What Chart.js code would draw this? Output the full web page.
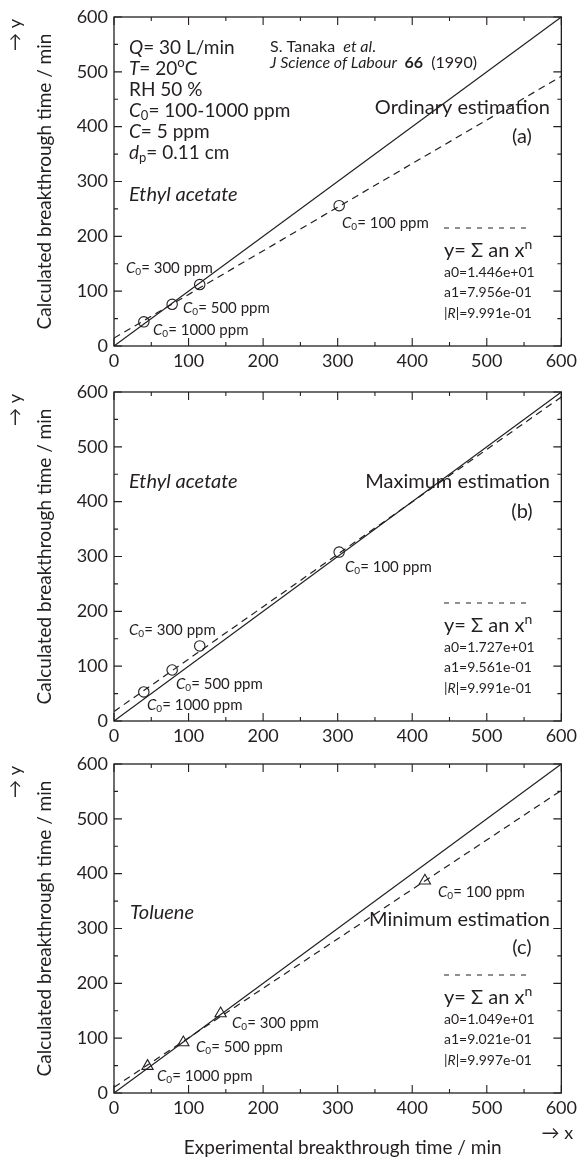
<!DOCTYPE html>
<html>
<head>
<meta charset="utf-8">
<script src="https://cdn.jsdelivr.net/npm/chart.js@4.4.0/dist/chart.umd.min.js"></script>
<style>
  body { margin: 0; background: #fff; }
  #wrap { position: relative; width: 581px; height: 1158px; }
  canvas { position: absolute; left: 0; }
</style>
</head>
<body>
<div id="wrap">
  <canvas id="chartA" width="581" height="375" style="top:0px"></canvas>
  <canvas id="chartB" width="581" height="375" style="top:375px"></canvas>
  <canvas id="chartC" width="581" height="411" style="top:747px"></canvas>
</div>
<script>
// data (experimental x, calculated y)
const expA = [40, 78, 115, 302];
const calcA = [44, 76, 112, 256];
const expB = [40, 78, 115, 302];
const calcB = [53, 93, 137, 308];
const expC = [45, 93, 143, 417];
const calcC = [49, 92, 145, 387];

// y = x reference line and the fitted lines (ends at x = 0 and 600)
const lineX = [0, 600];
const idealY = [0, 600];
const fitA = [14.46, 491.8];
const fitB = [17.27, 590.9];
const fitC = [10.49, 551.8];

const coefA = ['a0=1.446e+01', 'a1=7.956e-01', '9.991e-01'];
const coefB = ['a0=1.727e+01', 'a1=9.561e-01', '9.991e-01'];
const coefC = ['a0=1.049e+01', 'a1=9.021e-01', '9.997e-01'];

const axisMin = 0;
const axisMax = 600;
const tickStep = 50;

const FONT = "Lato, 'DejaVu Sans', sans-serif";
const INK = '#231f20';

function pts(xs, ys) {
    return xs.map((x, i) => ({ x: x, y: ys[i] }));
}

// draw text made of styled parts: 'i' italic, 'B' bold, '_' subscript, '^' superscript
function drawRich(ctx, x, y, parts, size, align) {
    const fontOf = (st, sz) => (st.includes('i') ? 'italic ' : '') + (st.includes('B') ? 'bold ' : '') + sz + 'px ' + FONT;
    let total = 0;
    const items = parts.map(p => {
        const st = p[1] || '';
        const small = st.includes('_') || st.includes('^');
        const sz = small ? Math.round(size * 0.68) : size;
        ctx.font = fontOf(st, sz);
        const w = ctx.measureText(p[0]).width;
        total += w;
        return { t: p[0], st: st, sz: sz, w: w };
    });
    let cx = x;
    if (align === 'right') cx = x - total;
    if (align === 'center') cx = x - total / 2;
    ctx.textAlign = 'left';
    ctx.textBaseline = 'middle';
    items.forEach(it => {
        ctx.font = fontOf(it.st, it.sz);
        let oy = 0;
        if (it.st.includes('_')) oy = size * 0.25;
        if (it.st.includes('^')) oy = -size * 0.33;
        ctx.fillText(it.t, cx, y + oy);
        cx += it.w;
    });
}

function c0(rest) {
    return [['C', 'i'], ['0', '_'], ['= ' + rest + ' ppm']];
}

// frame on all four sides with inward ticks
const framePlugin = {
    id: 'frame',
    afterDraw(chart) {
        const ctx = chart.ctx;
        const a = chart.chartArea;
        const xs = chart.scales.x;
        const ys = chart.scales.y;
        ctx.save();
        ctx.strokeStyle = INK;
        ctx.lineWidth = 1.3;
        ctx.strokeRect(a.left, a.top, a.right - a.left, a.bottom - a.top);
        ctx.lineWidth = 1.1;
        ctx.beginPath();
        xs.ticks.forEach(t => {
            const px = xs.getPixelForValue(t.value);
            const len = t.value % 100 ? 4 : 8;
            ctx.moveTo(px, a.bottom); ctx.lineTo(px, a.bottom - len);
            ctx.moveTo(px, a.top); ctx.lineTo(px, a.top + len);
        });
        ys.ticks.forEach(t => {
            const py = ys.getPixelForValue(t.value);
            const len = t.value % 100 ? 4 : 8;
            ctx.moveTo(a.left, py); ctx.lineTo(a.left + len, py);
            ctx.moveTo(a.right, py); ctx.lineTo(a.right - len, py);
        });
        ctx.stroke();
        ctx.restore();
    }
};

// notes, fit legend and axis titles of one panel
function notesPlugin(notes, coef, withXTitle) {
    return {
        id: 'notes',
        afterDraw(chart) {
            const ctx = chart.ctx;
            const a = chart.chartArea;
            ctx.save();
            ctx.fillStyle = INK;
            notes.forEach(n => drawRich(ctx, a.left + n.dx, a.top + n.dy, n.parts, n.size, n.align));

            // fit legend
            ctx.strokeStyle = INK;
            ctx.lineWidth = 1.2;
            ctx.setLineDash([5, 6]);
            ctx.beginPath();
            ctx.moveTo(a.left + 330, a.top + 211);
            ctx.lineTo(a.left + 418, a.top + 211);
            ctx.stroke();
            ctx.setLineDash([]);
            drawRich(ctx, a.left + 330, a.top + 234, [['y= \u03A3 an x'], ['n', '^']], 20);
            drawRich(ctx, a.left + 330, a.top + 255, [[coef[0]]], 14);
            drawRich(ctx, a.left + 330, a.top + 275, [[coef[1]]], 14);
            drawRich(ctx, a.left + 330, a.top + 296, [['|'], ['R', 'i'], ['|=' + coef[2]]], 14);

            // y axis title
            ctx.save();
            ctx.translate(45, (a.top + a.bottom) / 2);
            ctx.rotate(-Math.PI / 2);
            drawRich(ctx, 0, 0, [['Calculated breakthrough time / min']], 19, 'center');
            ctx.restore();
            ctx.save();
            ctx.translate(15, a.top + 18);
            ctx.rotate(-Math.PI / 2);
            drawRich(ctx, 0, 0, [['\u2192 y']], 18, 'center');
            ctx.restore();

            if (withXTitle) {
                drawRich(ctx, (a.left + a.right) / 2 + 5, a.bottom + 55, [['Experimental breakthrough time / min']], 19, 'center');
                drawRich(ctx, a.right - 4, a.bottom + 40, [['\u2192 x']], 18, 'center');
            }
            ctx.restore();
        }
    };
}

function makePanel(id, xs, ys, fit, marker, notes, coef, bottomPad, withXTitle) {
    const tickFont = { family: FONT, size: 18 };
    new Chart(document.getElementById(id), {
        type: 'scatter',
        data: {
            datasets: [
                {
                    data: pts(lineX, idealY),
                    showLine: true,
                    borderColor: INK,
                    borderWidth: 1.2,
                    pointRadius: 0
                },
                {
                    data: pts(lineX, fit),
                    showLine: true,
                    borderColor: INK,
                    borderWidth: 1.2,
                    borderDash: [7, 5],
                    pointRadius: 0
                },
                {
                    data: pts(xs, ys),
                    pointStyle: marker,
                    pointRadius: marker === 'triangle' ? 6.5 : 5.2,
                    borderWidth: 1.1,
                    borderColor: INK,
                    backgroundColor: 'rgba(0,0,0,0)'
                }
            ]
        },
        options: {
            responsive: false,
            animation: false,
            devicePixelRatio: 1,
            layout: { padding: { top: 17, right: 18, bottom: bottomPad, left: 0 } },
            plugins: { legend: { display: false }, tooltip: { enabled: false } },
            scales: {
                x: {
                    type: 'linear',
                    min: axisMin,
                    max: axisMax,
                    afterFit(s) { s.height = 25; },
                    grid: { display: false, drawTicks: false },
                    border: { display: false },
                    ticks: {
                        stepSize: tickStep,
                        autoSkip: false,
                        maxRotation: 0,
                        padding: 4,
                        color: INK,
                        font: tickFont,
                        callback: v => (v % 100 === 0 ? v : '')
                    }
                },
                y: {
                    type: 'linear',
                    min: axisMin,
                    max: axisMax,
                    afterFit(s) { s.width = 114; },
                    grid: { display: false, drawTicks: false },
                    border: { display: false },
                    ticks: {
                        stepSize: tickStep,
                        autoSkip: false,
                        padding: 6,
                        color: INK,
                        font: tickFont,
                        callback: v => (v % 100 === 0 ? v : '')
                    }
                }
            }
        },
        plugins: [framePlugin, notesPlugin(notes, coef, withXTitle)]
    });
}

const notesA = [
    { dx: 15, dy: 31, size: 19, parts: [['Q', 'i'], ['= 30 L/min']] },
    { dx: 15, dy: 52, size: 19, parts: [['T', 'i'], ['= 20'], ['o', '^'], ['C']] },
    { dx: 15, dy: 73, size: 19, parts: [['RH 50 %']] },
    { dx: 15, dy: 94, size: 19, parts: [['C', 'i'], ['0', '_'], ['= 100-1000 ppm']] },
    { dx: 15, dy: 115, size: 19, parts: [['C', 'i'], ['= 5 ppm']] },
    { dx: 15, dy: 136, size: 19, parts: [['d', 'i'], ['p', '_'], ['= 0.11 cm']] },
    { dx: 156, dy: 30, size: 16, parts: [['S. Tanaka  '], ['et al', 'i'], ['.']] },
    { dx: 156, dy: 46, size: 16, parts: [['J Science of Labour  ', 'i'], ['66', 'B'], ['  (1990)']] },
    { dx: 436, dy: 91, size: 20, align: 'right', parts: [['Ordinary estimation']] },
    { dx: 408, dy: 120, size: 20, align: 'center', parts: [['(a)']] },
    { dx: 15, dy: 178, size: 20, parts: [['Ethyl acetate', 'i']] },
    { dx: 12, dy: 251, size: 15, parts: c0('300') },
    { dx: 69, dy: 291, size: 15, parts: c0('500') },
    { dx: 39, dy: 313, size: 15, parts: c0('1000') },
    { dx: 228, dy: 206, size: 15, parts: c0('100') }
];

const notesB = [
    { dx: 15, dy: 90, size: 20, parts: [['Ethyl acetate', 'i']] },
    { dx: 436, dy: 90, size: 20, align: 'right', parts: [['Maximum estimation']] },
    { dx: 408, dy: 120, size: 20, align: 'center', parts: [['(b)']] },
    { dx: 15, dy: 238, size: 15, parts: c0('300') },
    { dx: 62, dy: 292, size: 15, parts: c0('500') },
    { dx: 33, dy: 313, size: 15, parts: c0('1000') },
    { dx: 231, dy: 175, size: 15, parts: c0('100') }
];

const notesC = [
    { dx: 16, dy: 149, size: 20, parts: [['Toluene', 'i']] },
    { dx: 436, dy: 156, size: 20, align: 'right', parts: [['Minimum estimation']] },
    { dx: 408, dy: 184, size: 20, align: 'center', parts: [['(c)']] },
    { dx: 324, dy: 128, size: 15, parts: c0('100') },
    { dx: 118, dy: 259, size: 15, parts: c0('300') },
    { dx: 82, dy: 283, size: 15, parts: c0('500') },
    { dx: 43, dy: 312, size: 15, parts: c0('1000') }
];

makePanel('chartA', expA, calcA, fitA, 'circle', notesA, coefA, 4, false);
makePanel('chartB', expB, calcB, fitB, 'circle', notesB, coefB, 4, false);
makePanel('chartC', expC, calcC, fitC, 'triangle', notesC, coefC, 40, true);
</script>
</body>
</html>
